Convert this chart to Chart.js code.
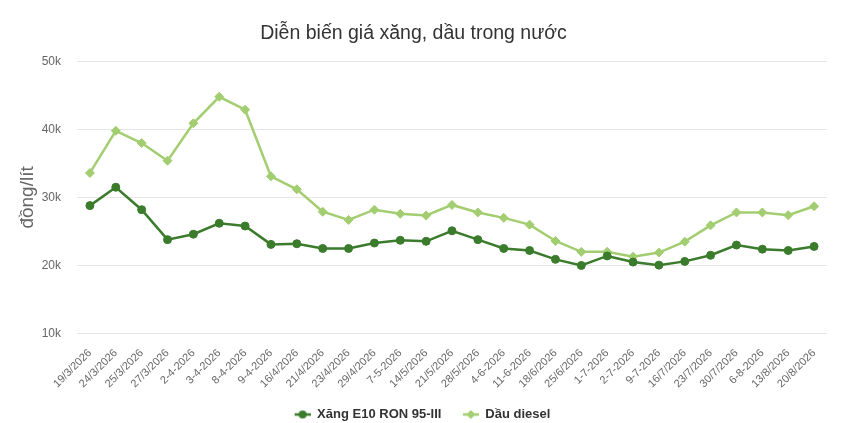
<!DOCTYPE html>
<html>
<head>
<meta charset="utf-8">
<script src="https://cdn.jsdelivr.net/npm/chart.js@4"></script>
<style>
  html, body { margin: 0; padding: 0; background: #fff; }
  #wrap { width: 842px; height: 423px; }
</style>
</head>
<body>
<div id="wrap"><canvas id="price-chart"></canvas></div>
<script>
const dates = ['19/3/2026', '24/3/2026', '25/3/2026', '27/3/2026', '2-4-2026', '3-4-2026', '8-4-2026',
  '9-4-2026', '16/4/2026', '21/4/2026', '23/4/2026', '29/4/2026', '7-5-2026', '14/5/2026', '21/5/2026',
  '28/5/2026', '4-6-2026', '11-6-2026', '18/6/2026', '25/6/2026', '1-7-2026', '2-7-2026', '9-7-2026',
  '16/7/2026', '23/7/2026', '30/7/2026', '6-8-2026', '13/8/2026', '20/8/2026'];

const e10 = [28800, 31500, 28200, 23800, 24600, 26200, 25800, 23100, 23200, 22500, 22500, 23300, 23700,
  23550, 25100, 23800, 22500, 22200, 20900, 20000, 21400, 20500, 20050, 20600, 21500, 23000, 22400, 22200, 22800];

const diesel = [33600, 39800, 38000, 35400, 40900, 44800, 42900, 33100, 31200, 27900, 26700, 28200, 27600,
  27350, 28900, 27800, 27000, 26000, 23600, 22000, 22000, 21300, 21900, 23500, 25900, 27800, 27800, 27400, 28700];

const yTicks = [10000, 20000, 30000, 40000, 50000];

const darkGreen = '#3a7b2c';
const lightGreen = '#a2cd70';
const fontFamily = 'Arial, "Liberation Sans", sans-serif';

// legend symbol: short line with the marker on it, blank space on the left acts as item gap
function legendIcon(color, style) {
  const c = document.createElement('canvas');
  c.width = 34; c.height = 10;
  const g = c.getContext('2d');
  g.strokeStyle = color;
  g.lineWidth = 2.5;
  g.beginPath();
  g.moveTo(18, 5); g.lineTo(34, 5);
  g.stroke();
  g.fillStyle = color;
  g.beginPath();
  if (style === 'circle') {
    g.arc(26, 5, 4, 0, Math.PI * 2);
  } else {
    g.moveTo(26, 0.5); g.lineTo(30.5, 5); g.lineTo(26, 9.5); g.lineTo(21.5, 5); g.closePath();
  }
  g.fill();
  return c;
}

const icons = [legendIcon(darkGreen, 'circle'), legendIcon(lightGreen, 'diamond')];

const config = {
  type: 'line',
  data: {
    labels: dates,
    datasets: [
      {
        label: 'Xăng E10 RON 95-III',
        data: e10,
        borderColor: darkGreen,
        backgroundColor: darkGreen,
        borderWidth: 2.5,
        pointStyle: 'circle',
        pointRadius: 4,
        pointBorderWidth: 1,
        pointHoverRadius: 5,
        tension: 0,
      },
      {
        label: 'Dầu diesel',
        data: diesel,
        borderColor: lightGreen,
        backgroundColor: lightGreen,
        borderWidth: 2.5,
        pointStyle: 'rectRot',
        pointRadius: 4.5,
        pointBorderWidth: 1,
        pointHoverRadius: 5,
        tension: 0,
      },
    ],
  },
  options: {
    responsive: true,
    maintainAspectRatio: false,
    animation: false,
    layout: { padding: { left: 0, right: 15, top: 8, bottom: -8 } },
    plugins: {
      title: {
        display: true,
        text: 'Diễn biến giá xăng, dầu trong nước',
        color: '#333333',
        font: { family: fontFamily, size: 19.5, weight: 'normal' },
        padding: { top: 14, bottom: 16 },
      },
      legend: {
        position: 'bottom',
        labels: {
          color: '#333333',
          font: { family: fontFamily, size: 13, weight: 'bold' },
          usePointStyle: true,
          pointStyleWidth: 34,
          padding: 3.5,
          generateLabels: (chart) => chart.data.datasets.map((ds, i) => ({
            text: ds.label,
            fontColor: '#333333',
            pointStyle: icons[i],
            datasetIndex: i,
            hidden: !chart.isDatasetVisible(i),
            lineWidth: 0,
            strokeStyle: 'transparent',
            fillStyle: ds.borderColor,
          })),
        },
      },
      tooltip: { enabled: true },
    },
    scales: {
      x: {
        offset: true,
        grid: { display: false },
        border: { display: false },
        ticks: {
          color: '#666666',
          font: { family: fontFamily, size: 11 },
          maxRotation: 45,
          minRotation: 45,
          autoSkip: false,
          padding: 5,
        },
        afterFit: (scale) => { scale.height = 71; },
      },
      y: {
        min: 10000,
        max: 50000,
        afterBuildTicks: (scale) => { scale.ticks = yTicks.map(v => ({ value: v })); },
        grid: { color: '#e6e6e6', lineWidth: 1, drawTicks: false },
        border: { display: false },
        ticks: {
          color: '#666666',
          font: { family: fontFamily, size: 12 },
          padding: 16,
          callback: (v) => (v / 1000) + 'k',
        },
        title: {
          display: true,
          text: 'đồng/lít',
          color: '#666666',
          font: { family: fontFamily, size: 19 },
          padding: { top: 16, bottom: 4 },
        },
        afterFit: (scale) => { scale.width = 77; },
      },
    },
  },
};

new Chart(document.getElementById('price-chart').getContext('2d'), config);
</script>
</body>
</html>
